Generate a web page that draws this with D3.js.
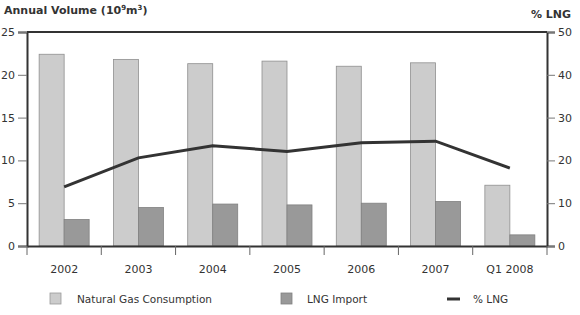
<!DOCTYPE html>
<html>
<head>
<meta charset="utf-8">
<script src="https://cdn.jsdelivr.net/npm/d3@7"></script>
<style>
  body { margin: 0; background: #fff; }
  text { font-family: "DejaVu Sans", sans-serif; fill: #333; }
</style>
</head>
<body>
<div id="chart"></div>
<script>
// Chart data
const categories = ["2002", "2003", "2004", "2005", "2006", "2007", "Q1 2008"];
const gasConsumption = [22.4, 21.8, 21.3, 21.6, 21.0, 21.4, 7.1];
const lngImport = [3.1, 4.5, 4.9, 4.8, 5.0, 5.2, 1.3];
const pctLng = [13.8, 20.6, 23.4, 22.1, 24.1, 24.5, 18.2];
const leftTicks = [0, 5, 10, 15, 20, 25];
const rightTicks = [0, 10, 20, 30, 40, 50];

const W = 580, H = 315;
const margin = { top: 32, right: 33, bottom: 69, left: 27 };

const svg = d3.select("#chart")
    .append("svg")
    .attr("width", W)
    .attr("height", H);

const x = d3.scaleBand()
    .domain(categories)
    .range([margin.left, W - margin.right])
    .paddingInner(0)
    .paddingOuter(0);

const yLeft = d3.scaleLinear()
    .domain([0, 25])
    .range([H - margin.bottom, margin.top]);

const yRight = d3.scaleLinear()
    .domain([0, 50])
    .range([H - margin.bottom, margin.top]);

const barW = 25;

// Bars
const groups = svg.selectAll(".cat")
    .data(categories)
    .enter()
    .append("g")
    .attr("class", "cat");

groups.append("rect")
    .attr("x", (d, i) => x(d) + x.bandwidth() / 2 - barW)
    .attr("y", (d, i) => yLeft(gasConsumption[i]))
    .attr("width", barW)
    .attr("height", (d, i) => yLeft(0) - yLeft(gasConsumption[i]))
    .attr("fill", "#cccccc")
    .attr("stroke", "#8f8f8f")
    .attr("stroke-width", 0.8);

groups.append("rect")
    .attr("x", (d, i) => x(d) + x.bandwidth() / 2)
    .attr("y", (d, i) => yLeft(lngImport[i]))
    .attr("width", barW)
    .attr("height", (d, i) => yLeft(0) - yLeft(lngImport[i]))
    .attr("fill", "#999999")
    .attr("stroke", "#808080")
    .attr("stroke-width", 0.8);

// % LNG line
const line = d3.line()
    .x((d, i) => x(categories[i]) + x.bandwidth() / 2)
    .y(d => yRight(d));

svg.append("path")
    .datum(pctLng)
    .attr("d", line)
    .attr("fill", "none")
    .attr("stroke", "#333333")
    .attr("stroke-width", 3);

// Frame: top line
svg.append("line")
    .attr("x1", margin.left).attr("x2", W - margin.right)
    .attr("y1", margin.top).attr("y2", margin.top)
    .attr("stroke", "#333").attr("stroke-width", 2);

// Left axis
const leftAxis = svg.append("g")
    .attr("transform", `translate(${margin.left},0)`)
    .call(d3.axisLeft(yLeft).tickValues(leftTicks).tickSize(9).tickPadding(3));

// Right axis
const rightAxis = svg.append("g")
    .attr("transform", `translate(${W - margin.right},0)`)
    .call(d3.axisRight(yRight).tickValues(rightTicks).tickSize(8).tickPadding(3));

// Bottom axis with ticks on category boundaries
const bottomAxis = svg.append("g")
    .attr("transform", `translate(0,${H - margin.bottom})`)
    .call(d3.axisBottom(x).tickSize(0).tickPadding(19));

bottomAxis.selectAll(".bound")
    .data(categories.concat(["end"]))
    .enter()
    .append("line")
    .attr("class", "bound")
    .attr("x1", (d, i) => margin.left + i * x.bandwidth())
    .attr("x2", (d, i) => margin.left + i * x.bandwidth())
    .attr("y1", 0).attr("y2", 9)
    .attr("stroke", "#666").attr("stroke-width", 1);

[leftAxis, rightAxis, bottomAxis].forEach(g => {
    g.select(".domain").attr("stroke", "#333").attr("stroke-width", 2);
    g.selectAll(".tick line").attr("stroke", "#777");
    g.selectAll("text").attr("font-size", 11).attr("fill", "#333")
        .style("font-family", "DejaVu Sans, sans-serif");
});

// Axis titles
const title = svg.append("text")
    .attr("x", 4).attr("y", 14)
    .attr("font-size", 11).attr("font-weight", "bold");
title.append("tspan").text("Annual Volume (10");
title.append("tspan").text("9").attr("font-size", 7).attr("dy", -4);
title.append("tspan").text("m").attr("dy", 4);
title.append("tspan").text("3").attr("font-size", 7).attr("dy", -4);
title.append("tspan").text(")").attr("dy", 4);

svg.append("text")
    .attr("x", 571).attr("y", 18)
    .attr("text-anchor", "end")
    .attr("font-size", 11).attr("font-weight", "bold")
    .text("% LNG");

// Legend
const legendY = 299;
const legend = svg.append("g");

legend.append("rect")
    .attr("x", 50).attr("y", legendY - 6)
    .attr("width", 11).attr("height", 11)
    .attr("fill", "#cccccc").attr("stroke", "#999").attr("stroke-width", 0.8);
legend.append("text")
    .attr("x", 77).attr("y", legendY + 4)
    .attr("font-size", 10.5)
    .text("Natural Gas Consumption");

legend.append("rect")
    .attr("x", 281).attr("y", legendY - 6)
    .attr("width", 11).attr("height", 11)
    .attr("fill", "#999999").attr("stroke", "#808080").attr("stroke-width", 0.8);
legend.append("text")
    .attr("x", 307).attr("y", legendY + 4)
    .attr("font-size", 10.5)
    .text("LNG Import");

legend.append("line")
    .attr("x1", 447).attr("x2", 460)
    .attr("y1", legendY).attr("y2", legendY)
    .attr("stroke", "#333").attr("stroke-width", 3);
legend.append("text")
    .attr("x", 473).attr("y", legendY + 4)
    .attr("font-size", 10.5)
    .text("% LNG");
</script>
</body>
</html>
